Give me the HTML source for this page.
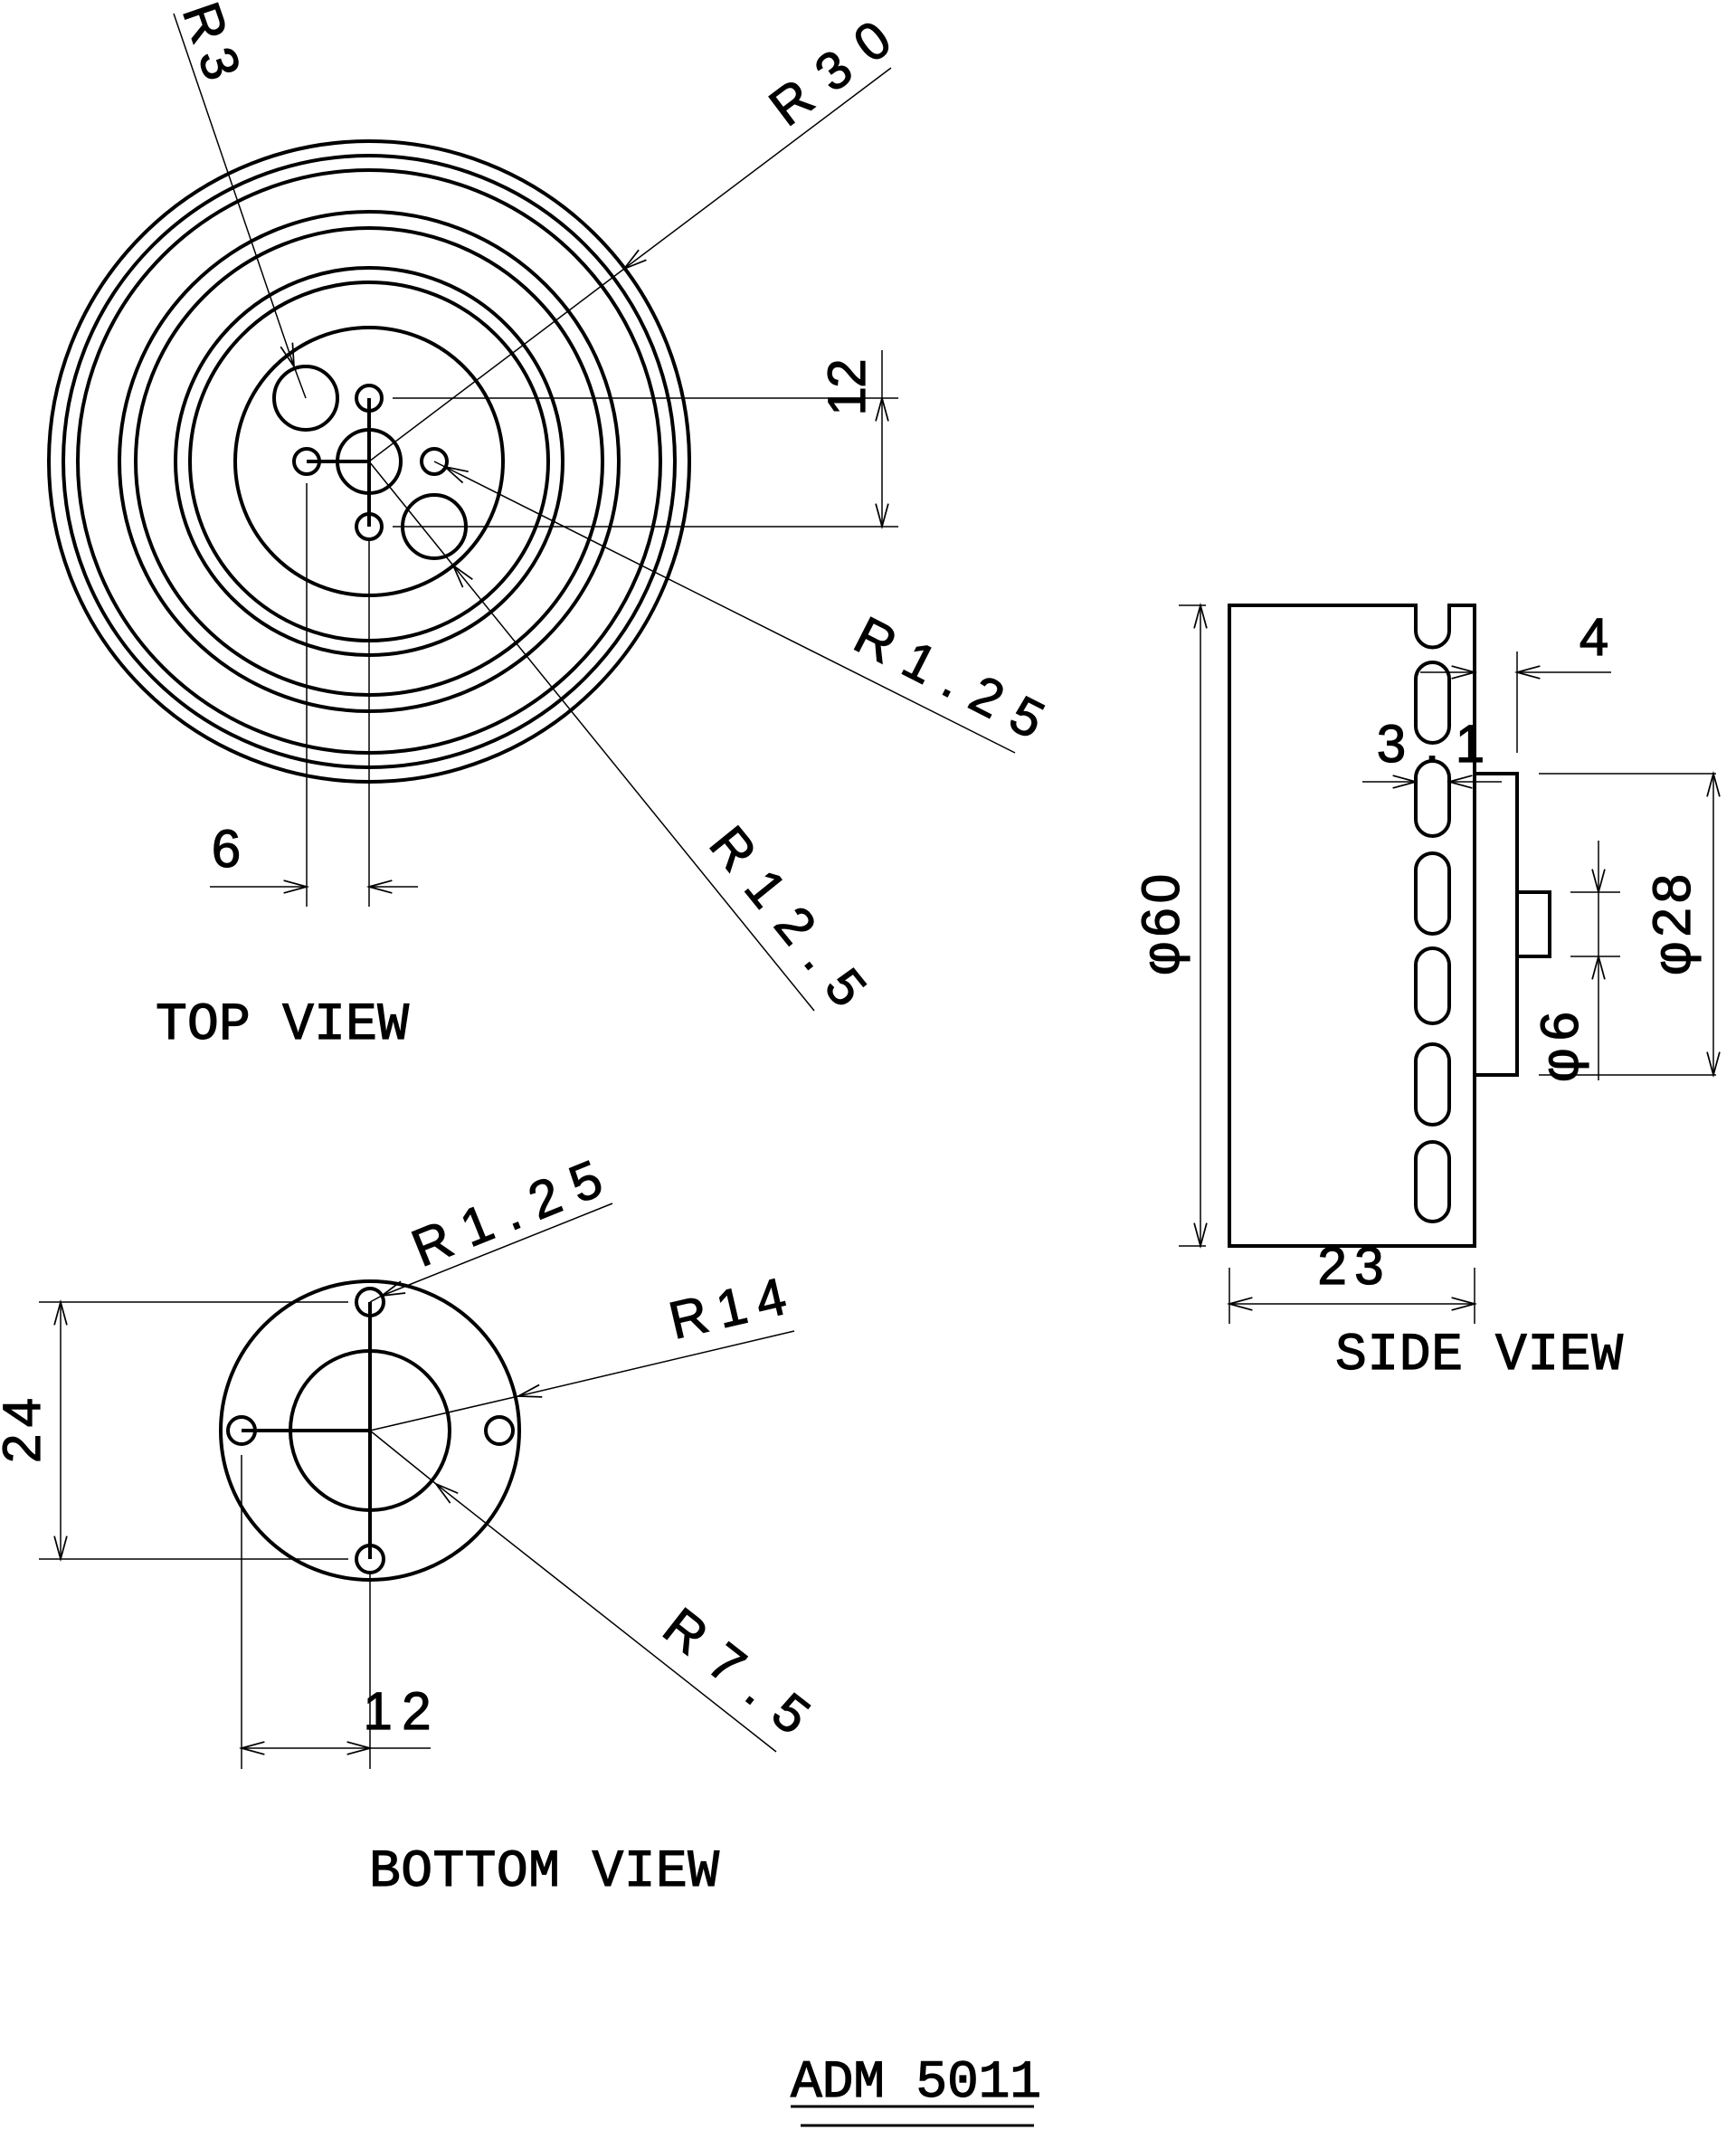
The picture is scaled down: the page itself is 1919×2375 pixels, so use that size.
<!DOCTYPE html>
<html><head><meta charset="utf-8"><style>
html,body{margin:0;padding:0;background:#fff;}
svg{display:block;}
text{font-family:"Liberation Sans",sans-serif;font-size:58px;fill:#000;stroke:#000;stroke-width:1.2px;}
text.t{font-family:"Liberation Mono",monospace;}
</style></head><body>
<svg width="1919" height="2375" viewBox="0 0 1919 2375" xmlns="http://www.w3.org/2000/svg">
<defs>
<marker id="a" markerUnits="userSpaceOnUse" markerWidth="30" markerHeight="20" viewBox="-24 -8 26 16" refX="0" refY="0" orient="auto-start-reverse">
<path d="M-22,-6 L0,0 L-22,6" fill="none" stroke="#000" stroke-width="1.5"/>
</marker>
</defs>
<rect width="1919" height="2375" fill="#fff"/>

<!-- TOP VIEW -->
<g fill="none" stroke="#000" stroke-width="4">
<circle cx="408" cy="510" r="354"/><circle cx="408" cy="510" r="338"/><circle cx="408" cy="510" r="322"/>
<circle cx="408" cy="510" r="276"/><circle cx="408" cy="510" r="258"/><circle cx="408" cy="510" r="214"/>
<circle cx="408" cy="510" r="198"/><circle cx="408" cy="510" r="148"/>
<circle cx="408" cy="510" r="35"/><circle cx="408" cy="440" r="14"/><circle cx="339" cy="510" r="14"/>
<circle cx="480" cy="510" r="14"/><circle cx="408" cy="582" r="14"/>
<circle cx="338" cy="440" r="35"/><circle cx="480" cy="582" r="35"/>
<path d="M339,510 H408 M408,440 V582"/>
</g>
<g fill="none" stroke="#000" stroke-width="1.5">
<path d="M434,440 H993 M434,582 H993 M975,387 V440"/>
<line x1="975" y1="440" x2="975" y2="582" marker-start="url(#a)" marker-end="url(#a)"/>
<path d="M339,534 V1002 M408,596 V1002"/>
<line x1="232" y1="980" x2="339" y2="980" marker-end="url(#a)"/>
<line x1="462" y1="980" x2="408" y2="980" marker-end="url(#a)"/>
<line x1="985" y1="75" x2="690" y2="297" marker-end="url(#a)"/><line x1="690" y1="297" x2="408" y2="510"/>
<line x1="192" y1="15" x2="325" y2="405" marker-end="url(#a)"/><line x1="325" y1="405" x2="338" y2="440"/>
<line x1="1122" y1="832" x2="492" y2="516" marker-end="url(#a)"/><line x1="492" y1="516" x2="480" y2="510"/>
<line x1="900" y1="1117" x2="501" y2="625" marker-end="url(#a)"/><line x1="501" y1="625" x2="408" y2="510"/>
</g>
<text transform="translate(235,45) rotate(71)" text-anchor="middle" dy="0.36em" textLength="85">R3</text>
<text transform="translate(917,80) rotate(-37)" text-anchor="middle" dy="0.36em" textLength="149">R30</text>
<text transform="translate(935,428) rotate(-90)" text-anchor="middle" dy="0.36em" textLength="63">12</text>
<text transform="translate(1050,748) rotate(27)" text-anchor="middle" dy="0.36em" textLength="225">R1.25</text>
<text transform="translate(872,1012) rotate(51)" text-anchor="middle" dy="0.36em" textLength="235">R12.5</text>
<text x="250" y="937" text-anchor="middle" dy="0.36em">6</text>
<text class="t" x="172" y="1148" textLength="280">TOP VIEW</text>

<!-- SIDE VIEW -->
<g fill="none" stroke="#000" stroke-width="4">
<path d="M1565,669 H1359 V1377 H1630 V669 H1602 V697 A18.5,18.5 0 0 1 1565,697 Z" />
<rect x="1565" y="732" width="37" height="89" rx="18.5"/>
<rect x="1565" y="841" width="37" height="83" rx="18.5"/>
<rect x="1565" y="943" width="37" height="89" rx="18.5"/>
<rect x="1565" y="1048" width="37" height="83" rx="18.5"/>
<rect x="1565" y="1154" width="37" height="89" rx="18.5"/>
<rect x="1565" y="1262" width="37" height="88" rx="18.5"/>
<rect x="1630" y="855" width="47" height="333"/>
<rect x="1677" y="986" width="36" height="71"/>
</g>
<g fill="none" stroke="#000" stroke-width="1.5">
<path d="M1303,669 H1333 M1303,1377 H1333"/>
<line x1="1327" y1="669" x2="1327" y2="1377" marker-start="url(#a)" marker-end="url(#a)"/>
<path d="M1359,1401 V1463 M1630,1401 V1463"/>
<line x1="1359" y1="1441" x2="1630" y2="1441" marker-start="url(#a)" marker-end="url(#a)"/>
<path d="M1677,720 V832"/>
<line x1="1570" y1="743" x2="1630" y2="743" marker-end="url(#a)"/>
<line x1="1781" y1="743" x2="1677" y2="743" marker-end="url(#a)"/>
<line x1="1506" y1="864" x2="1565" y2="864" marker-end="url(#a)"/>
<line x1="1660" y1="864" x2="1602" y2="864" marker-end="url(#a)"/>
<path d="M1701,855 H1897 M1701,1188 H1897"/>
<line x1="1894" y1="855" x2="1894" y2="1188" marker-start="url(#a)" marker-end="url(#a)"/>
<path d="M1736,986 H1791 M1736,1057 H1791 M1767,986 V1057"/>
<line x1="1767" y1="929" x2="1767" y2="986" marker-end="url(#a)"/>
<line x1="1767" y1="1194" x2="1767" y2="1057" marker-end="url(#a)"/>
</g>
<text transform="translate(1282,1022) rotate(-90)" text-anchor="middle" dy="0.36em" textLength="112">φ60</text>
<text transform="translate(1847,1022) rotate(-90)" text-anchor="middle" dy="0.36em" textLength="112">φ28</text>
<text transform="translate(1723,1157) rotate(-90)" text-anchor="middle" dy="0.36em" textLength="78">φ6</text>
<text x="1762" y="703" text-anchor="middle" dy="0.36em">4</text>
<text x="1538" y="821" text-anchor="middle" dy="0.36em">3</text>
<text x="1583" y="821" text-anchor="middle" dy="0.36em">.</text>
<text x="1625" y="821" text-anchor="middle" dy="0.36em">1</text>
<text x="1493" y="1398" text-anchor="middle" dy="0.36em" textLength="73">23</text>
<text class="t" x="1476" y="1513" textLength="318">SIDE VIEW</text>

<!-- BOTTOM VIEW -->
<g fill="none" stroke="#000" stroke-width="4">
<circle cx="409" cy="1581" r="165"/><circle cx="409" cy="1581" r="88"/>
<circle cx="409" cy="1439" r="15"/><circle cx="409" cy="1723" r="15"/>
<circle cx="267" cy="1581" r="15"/><circle cx="552" cy="1581" r="15"/>
<path d="M267,1581 H409 M409,1439 V1723"/>
</g>
<g fill="none" stroke="#000" stroke-width="1.5">
<path d="M43,1439 H385 M43,1723 H385"/>
<line x1="67" y1="1439" x2="67" y2="1723" marker-start="url(#a)" marker-end="url(#a)"/>
<path d="M267,1608 V1955 M409,1738 V1955 M409,1932 H476"/>
<line x1="267" y1="1932" x2="409" y2="1932" marker-start="url(#a)" marker-end="url(#a)"/>
<line x1="677" y1="1330" x2="422" y2="1432" marker-end="url(#a)"/><line x1="422" y1="1432" x2="409" y2="1439"/>
<line x1="878" y1="1471" x2="573" y2="1543" marker-end="url(#a)"/><line x1="573" y1="1543" x2="409" y2="1581"/>
<line x1="858" y1="1936" x2="482" y2="1640" marker-end="url(#a)"/><line x1="482" y1="1640" x2="409" y2="1581"/>
</g>
<text transform="translate(23,1581) rotate(-90)" text-anchor="middle" dy="0.36em" textLength="72">24</text>
<text x="439" y="1890" text-anchor="middle" dy="0.36em" textLength="75">12</text>
<text transform="translate(560,1340) rotate(-22)" text-anchor="middle" dy="0.36em" textLength="220">R1.25</text>
<text transform="translate(804,1445) rotate(-13)" text-anchor="middle" dy="0.36em" textLength="130">R14</text>
<text transform="translate(815,1846) rotate(38)" text-anchor="middle" dy="0.36em" textLength="185">R7.5</text>
<text class="t" x="408" y="2084" textLength="387">BOTTOM VIEW</text>

<!-- TITLE -->
<text class="t" x="874" y="2317" textLength="277">ADM 5011</text>
<path d="M874,2328 H1143 M885,2349 H1143" stroke="#000" stroke-width="3" fill="none"/>
</svg>
</body></html>
